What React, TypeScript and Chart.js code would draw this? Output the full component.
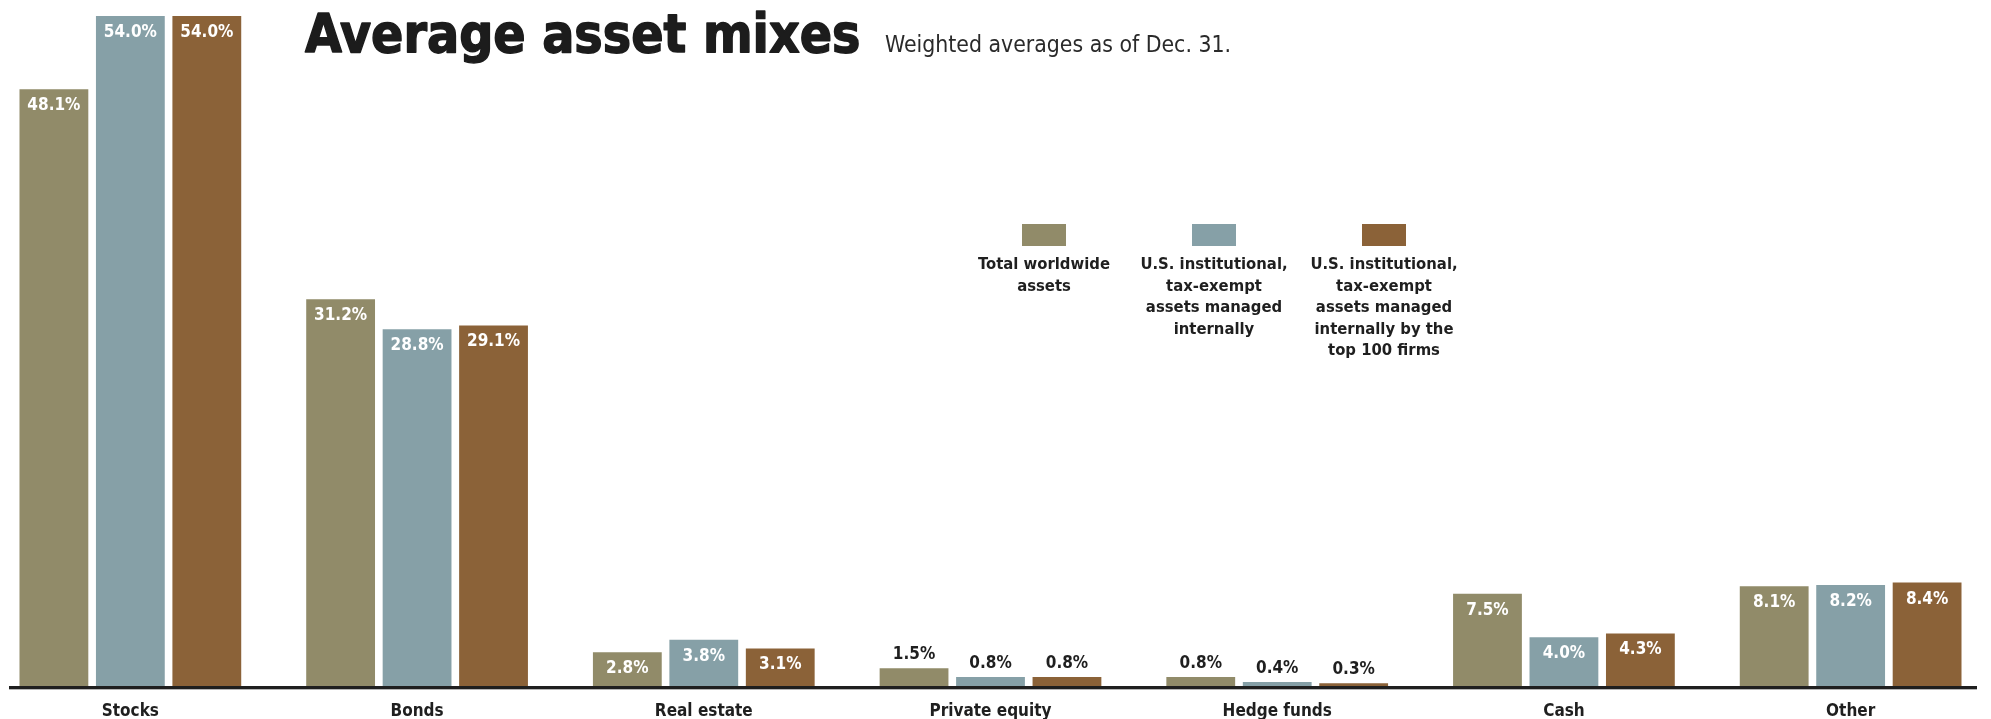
import React, { useEffect, useRef } from "react";
import { Chart, registerables } from "chart.js";

Chart.register(...registerables);

const categories = ["Stocks", "Bonds", "Real estate", "Private equity", "Hedge funds", "Cash", "Other"];
const totalWorldwide = [48.1, 31.2, 2.8, 1.5, 0.8, 7.5, 8.1];
const usInternal = [54.0, 28.8, 3.8, 0.8, 0.4, 4.0, 8.2];
const usTop100 = [54.0, 29.1, 3.1, 0.8, 0.3, 4.3, 8.4];
const seriesNames = [
  ["Total worldwide", "assets"],
  ["U.S. institutional,", "tax-exempt", "assets managed", "internally"],
  ["U.S. institutional,", "tax-exempt", "assets managed", "internally by the", "top 100 firms"],
];
const seriesColors = ["#918b69", "#86a0a7", "#8b6238"];
const titleText = "Average asset mixes";
const subtitleText = "Weighted averages as of Dec. 31.";
const yMax = 54;

const FONT = '"DejaVu Sans Condensed", "DejaVu Sans", sans-serif';
const OFFSET = 13; // canvas is shifted left by this many px
const DARK = "#1f1f1f";

const decorPlugin = {
  id: "decor",
  afterDatasetsDraw(chart: any) {
    const ctx = chart.ctx as CanvasRenderingContext2D;
    ctx.save();
    ctx.font = `bold 17px ${FONT}`;
    ctx.textAlign = "center";
    ctx.textBaseline = "middle";
    chart.data.datasets.forEach((ds: any, di: number) => {
      const meta = chart.getDatasetMeta(di);
      meta.data.forEach((el: any, i: number) => {
        const v = ds.data[i] as number;
        const txt = v.toFixed(1) + "%";
        if (v >= 2) {
          ctx.fillStyle = "#ffffff";
          ctx.fillText(txt, el.x, el.y + 16.5);
        } else {
          ctx.fillStyle = DARK;
          ctx.fillText(txt, el.x, el.y - 13.5);
        }
      });
    });
    ctx.restore();
  },
  afterDraw(chart: any) {
    const ctx = chart.ctx as CanvasRenderingContext2D;
    const xs = chart.scales.x;
    const bottom = chart.chartArea.bottom;
    ctx.save();
    // axis line
    ctx.fillStyle = "#b5b5b5";
    ctx.fillRect(9 + OFFSET, bottom - 1, 1977 - 9, 4);
    ctx.fillStyle = DARK;
    ctx.fillRect(9 + OFFSET, bottom - 1, 1977 - 9, 3);
    // category labels
    ctx.font = `bold 17px ${FONT}`;
    ctx.textAlign = "center";
    ctx.textBaseline = "middle";
    ctx.fillStyle = DARK;
    categories.forEach((c, i) => {
      ctx.fillText(c, xs.getPixelForValue(i), bottom + 24.5);
    });
    // title
    ctx.textAlign = "left";
    ctx.textBaseline = "alphabetic";
    ctx.font = `bold 53px ${FONT}`;
    ctx.fillStyle = "#1c1c1c";
    ctx.strokeStyle = "#1c1c1c";
    ctx.lineWidth = 1.4;
    ctx.lineJoin = "round";
    ctx.fillText(titleText, 305 + OFFSET, 52);
    ctx.strokeText(titleText, 305 + OFFSET, 52);
    ctx.font = `22.8px ${FONT}`;
    ctx.fillStyle = "#2a2a2a";
    ctx.fillText(subtitleText, 885 + OFFSET, 52);
    // legend
    const centers = [1044, 1214, 1384];
    centers.forEach((cx, si) => {
      ctx.fillStyle = seriesColors[si];
      ctx.fillRect(cx - 22 + OFFSET, 224, 44, 22);
      ctx.fillStyle = DARK;
      ctx.font = `bold 16.5px ${FONT}`;
      ctx.textAlign = "center";
      ctx.textBaseline = "middle";
      seriesNames[si].forEach((line, li) => {
        ctx.fillText(line, cx + OFFSET, 265 + li * 21.5);
      });
    });
    ctx.restore();
  },
};

export default function App() {
  const ref = useRef<HTMLCanvasElement | null>(null);
  useEffect(() => {
    if (!ref.current) return;
    const chart = new Chart(ref.current, {
      type: "bar",
      data: {
        labels: categories,
        datasets: [
          { label: seriesNames[0].join(" "), data: totalWorldwide, backgroundColor: seriesColors[0], borderWidth: 0 },
          { label: seriesNames[1].join(" "), data: usInternal, backgroundColor: seriesColors[1], borderWidth: 0 },
          { label: seriesNames[2].join(" "), data: usTop100, backgroundColor: seriesColors[2], borderWidth: 0 },
        ],
      },
      options: {
        responsive: false,
        maintainAspectRatio: false,
        devicePixelRatio: 1,
        animation: false,
        layout: { padding: { top: 16, bottom: 32, left: 0, right: 0 } },
        datasets: { bar: { barPercentage: 0.9, categoryPercentage: 0.8 } },
        plugins: { legend: { display: false }, tooltip: { enabled: false }, title: { display: false } },
        scales: {
          x: { display: false },
          y: { display: false, min: 0, max: yMax },
        },
      },
      plugins: [decorPlugin],
    });
    return () => chart.destroy();
  }, []);
  return (
    <div style={{ position: "fixed", left: 0, top: 0, width: 1991, height: 719, overflow: "hidden", background: "#fff" }}>
      <canvas ref={ref} width={2007} height={719} style={{ position: "absolute", left: -OFFSET, top: 0, width: 2007, height: 719 }} />
    </div>
  );
}
